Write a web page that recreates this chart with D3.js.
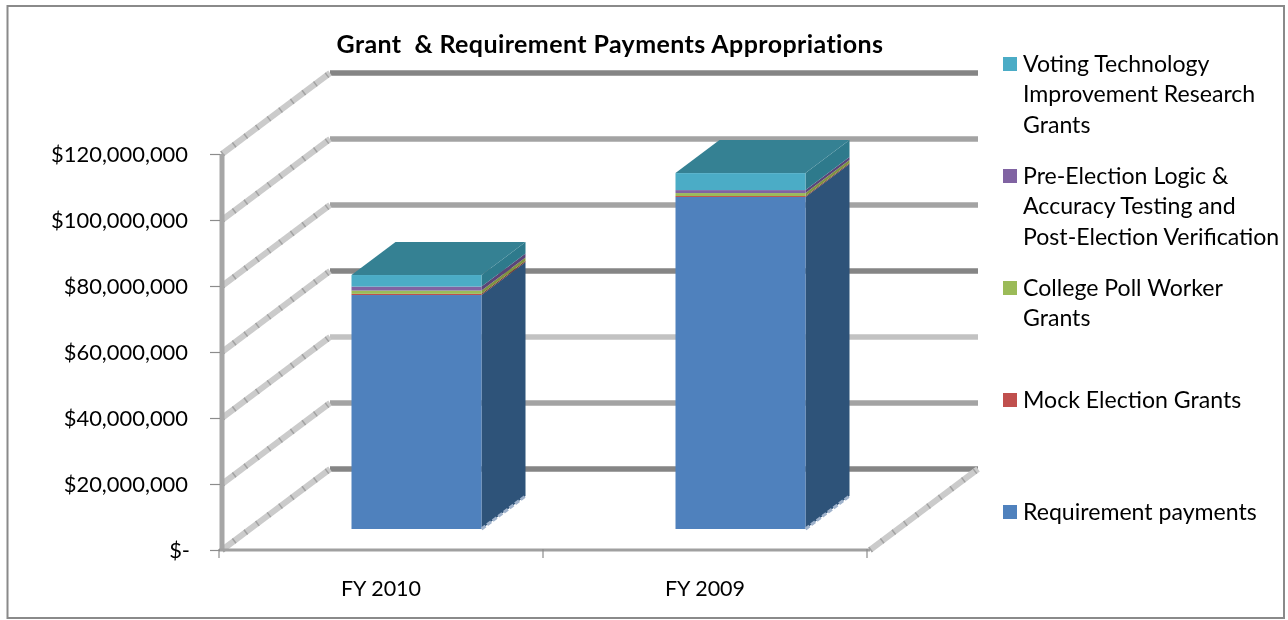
<!DOCTYPE html>
<html>
<head>
<meta charset="utf-8">
<script src="https://cdn.jsdelivr.net/npm/d3@7"></script>
<style>
  html, body { margin: 0; padding: 0; background: #fff; }
  text { font-family: Lato, "Open Sans", sans-serif; fill: #000; }
</style>
</head>
<body>
<div id="chart"></div>
<script>
const categories = ["FY 2010", "FY 2009"];
const seriesNames = ["Requirement payments", "Mock Election Grants", "College Poll Worker Grants", "Pre-Election Logic & Accuracy Testing and Post-Election Verification", "Voting Technology Improvement Research Grants"];
const requirementPayments = [70900000, 100600000];
const mockElection = [360000, 300000];
const collegePollWorker = [1000000, 900000];
const preElection = [1200000, 900000];
const votingTechnology = [3500000, 5150000];
const yTicks = [0, 20000000, 40000000, 60000000, 80000000, 100000000, 120000000];
const legendLines = [
    ["Voting Technology", "Improvement Research", "Grants"],
    ["Pre-Election Logic &", "Accuracy Testing and", "Post-Election Verification"],
    ["College Poll Worker", "Grants"],
    ["Mock Election Grants"],
    ["Requirement payments"]
];

const colors = ["#4f81bd", "#c0504d", "#9bbb59", "#8064a2", "#4bacc6"];
const sideColors = ["#2f5379", "#76312f", "#7f9440", "#5a4478", "#2e7a8c"];
const topColor = "#358193";
const gridColors = ["#858585", "#a3a3a3", "#c2c2c2", "#858585", "#a3a3a3", "#a3a3a3", "#858585"];

const width = 1288, height = 620;
const depthX = 108, depthY = 81;      // wall depth in the fake 3d
const barW = 130, barDepthX = 44, barDepthY = 33;
const barShiftX = 35.5, barShiftY = 21; // bars stand a bit inside the floor

const svg = d3.select("#chart").append("svg")
    .attr("width", width)
    .attr("height", height)
    .style("display", "block");

const defs = svg.append("defs");
defs.append("filter").attr("id", "soft")
    .append("feGaussianBlur").attr("stdDeviation", 0.4);
defs.append("filter").attr("id", "softText")
    .append("feGaussianBlur").attr("stdDeviation", 0.3);

svg.append("rect")
    .attr("x", 7.5).attr("y", 6)
    .attr("width", 1276.5).attr("height", 612)
    .attr("fill", "#fff")
    .attr("stroke", "#8a8a8a")
    .attr("stroke-width", 2);

const x = d3.scaleBand().domain(categories).range([219, 867]);
const y = d3.scaleLinear().domain([0, 120000000]).range([550, 154]);

const plot = svg.append("g").attr("filter", "url(#soft)");
const labels = svg.append("g").attr("filter", "url(#softText)");

// back wall lines
plot.selectAll(".grid").data(yTicks).enter().append("line")
    .attr("class", "grid")
    .attr("x1", 222 + depthX).attr("x2", 870 + depthX)
    .attr("y1", d => y(d) - depthY).attr("y2", d => y(d) - depthY)
    .attr("stroke", (d, i) => gridColors[i])
    .attr("stroke-width", 5.5);

// side wall lines, dashed on top to get the rough texture
[["#cbcbcb", null], ["#a2a2a2", "1.5 13"]].forEach(([c, dash]) => {
    plot.selectAll(null).data(yTicks).enter().append("line")
        .attr("x1", 222).attr("x2", 222 + depthX)
        .attr("y1", d => y(d)).attr("y2", d => y(d) - depthY)
        .attr("stroke", c)
        .attr("stroke-dasharray", dash)
        .attr("stroke-width", 6);
    plot.append("line")
        .attr("x1", 870).attr("x2", 870 + depthX)
        .attr("y1", y(0)).attr("y2", y(0) - depthY)
        .attr("stroke", c)
        .attr("stroke-dasharray", dash)
        .attr("stroke-width", 6);
});

plot.append("line")
    .attr("x1", 222).attr("x2", 222)
    .attr("y1", y(120000000)).attr("y2", y(0))
    .attr("stroke", "#a6a6a6").attr("stroke-width", 5);
plot.append("line")
    .attr("x1", 219).attr("x2", 870)
    .attr("y1", 550).attr("y2", 550)
    .attr("stroke", "#a0a0a0").attr("stroke-width", 3);

// stacked bars
const rows = categories.map((c, i) => ({
    cat: c,
    s0: requirementPayments[i],
    s1: mockElection[i],
    s2: collegePollWorker[i],
    s3: preElection[i],
    s4: votingTechnology[i]
}));
const stacked = d3.stack().keys(["s0", "s1", "s2", "s3", "s4"])(rows);

const barLeft = c => x(c) + x.bandwidth() / 2 - barW / 2 + barShiftX;
const barY = v => y(v) - barShiftY;

categories.forEach((cat, ci) => {
    const g = plot.append("g");
    const left = barLeft(cat), right = left + barW;
    stacked.forEach((layer, li) => {
        const d = layer[ci];
        g.append("path")
            .attr("d", `M${right},${barY(d[0])}L${right + barDepthX},${barY(d[0]) - barDepthY}L${right + barDepthX},${barY(d[1]) - barDepthY}L${right},${barY(d[1])}Z`)
            .attr("fill", sideColors[li]);
        g.append("rect")
            .attr("x", left)
            .attr("y", barY(d[1]))
            .attr("width", barW)
            .attr("height", barY(d[0]) - barY(d[1]))
            .attr("fill", colors[li]);
    });
    const total = stacked[stacked.length - 1][ci][1];
    g.append("path")
        .attr("d", `M${left},${barY(total)}L${left + barDepthX},${barY(total) - barDepthY}L${right + barDepthX},${barY(total) - barDepthY}L${right},${barY(total)}Z`)
        .attr("fill", topColor);
    // pale fringe along the bottom edge of the side face
    g.append("line")
        .attr("x1", right).attr("x2", right + barDepthX)
        .attr("y1", barY(0)).attr("y2", barY(0) - barDepthY)
        .attr("stroke", "#9fb2cb").attr("stroke-width", 3)
        .attr("stroke-dasharray", "5 2");
});

// axes
const yAxis = d3.axisLeft(y)
    .tickValues(yTicks)
    .tickSize(10)
    .tickPadding(22)
    .tickFormat(d => d === 0 ? "$-" : d3.format("$,")(d));
const yG = labels.append("g").attr("transform", "translate(220,0)").call(yAxis);
yG.select(".domain").remove();
yG.selectAll(".tick line").attr("stroke", "#8c8c8c").attr("stroke-width", 1.2);
yG.selectAll("text")
    .style("font-size", "21.9px")
    .attr("fill", "#000")
    .attr("dy", "0.36em");
yG.selectAll(".tick").filter(d => d === 0).select("text").attr("x", -30);

const xAxis = d3.axisBottom(x).tickSize(0).tickPadding(31);
const xG = labels.append("g").attr("transform", "translate(0,550)").call(xAxis);
xG.select(".domain").remove();
xG.selectAll("line").remove();
xG.selectAll("text")
    .style("font-size", "21.5px")
    .attr("fill", "#000");

// category ticks sit on the band edges
labels.selectAll(".xTick").data([...categories.map(c => x(c)), x(categories[1]) + x.bandwidth()]).enter().append("line")
    .attr("class", "xTick")
    .attr("x1", d => d).attr("x2", d => d)
    .attr("y1", 549).attr("y2", 558)
    .attr("stroke", "#8c8c8c").attr("stroke-width", 1.2);

labels.append("text")
    .attr("x", 610).attr("y", 53)
    .attr("text-anchor", "middle")
    .attr("xml:space", "preserve")
    .style("font-size", "25px")
    .style("letter-spacing", "0.4px")
    .style("font-weight", "700")
    .text("Grant  & Requirement Payments Appropriations");

// legend, top to bottom is the reverse of the stack
const legendTop = [57, 169, 281, 393, 505];
const legend = labels.selectAll(".legend").data(legendLines).enter().append("g")
    .attr("class", "legend")
    .attr("transform", (d, i) => `translate(1003,${legendTop[i]})`);
legend.append("rect")
    .attr("width", 14).attr("height", 14)
    .attr("fill", (d, i) => colors[colors.length - 1 - i]);
legend.each(function(lines) {
    d3.select(this).selectAll("text").data(lines).enter().append("text")
        .attr("x", 20)
        .attr("y", (d, i) => 14.5 + i * 30.5)
        .style("font-size", "23.1px")
        .text(d => d);
});
</script>
</body>
</html>
